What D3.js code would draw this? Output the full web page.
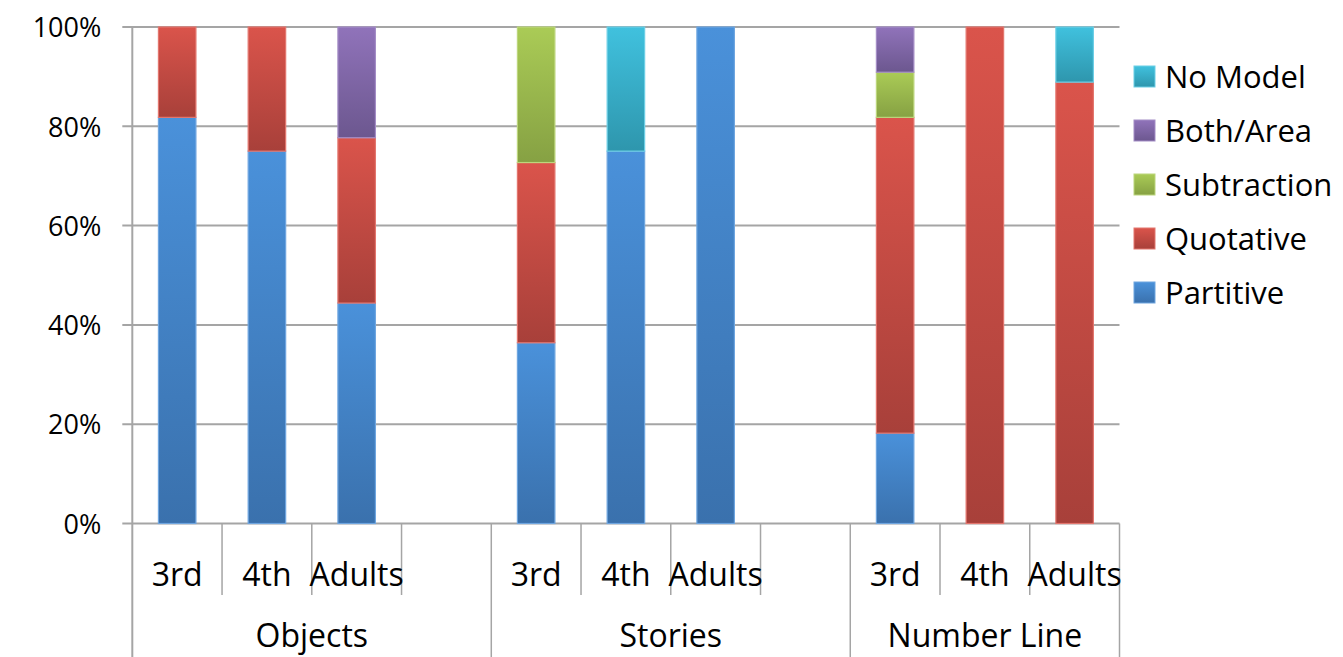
<!DOCTYPE html>
<html>
<head>
<meta charset="utf-8">
<script src="https://cdn.jsdelivr.net/npm/d3@7"></script>
<style>
  html, body { margin: 0; padding: 0; background: #fff; }
  svg { display: block; }
  text { font-family: "Open Sans", sans-serif; fill: #000; }
</style>
</head>
<body>
<svg id="chart" width="1343" height="657"></svg>
<script>
// ---- Data ----
const groups = ["Objects", "Stories", "Number Line"];
const categories = ["3rd", "4th", "Adults"];
const seriesNames = ["Partitive", "Quotative", "Subtraction", "Both/Area", "No Model"];
const partitive   = [81.8, 75, 44.4, 36.4, 75, 100, 18.2, 0, 0];
const quotative   = [18.2, 25, 33.3, 36.3, 0, 0, 63.6, 100, 88.9];
const subtraction = [0, 0, 0, 27.3, 0, 0, 9.1, 0, 0];
const bothArea    = [0, 0, 22.3, 0, 0, 0, 9.1, 0, 0];
const noModel     = [0, 0, 0, 0, 25, 0, 0, 0, 11.1];
const yTicks = [0, 20, 40, 60, 80, 100];

const seriesValues = [partitive, quotative, subtraction, bothArea, noModel];
const colorsTop    = ["#4a91da", "#da544b", "#aacb56", "#9073ba", "#40c1de"];
const colorsBottom = ["#3a71ad", "#a8403a", "#86a143", "#6c578f", "#2e96ad"];
const colorsStroke = ["#6fa6e0", "#e3766e", "#bcd67c", "#a48dc6", "#6ccfe6"];

// ---- Build slots (3 per group + empty spacer between groups) ----
const slots = [];
const rows = [];
groups.forEach((g, gi) => {
  categories.forEach((c, ci) => {
    const key = g + "|" + c;
    slots.push(key);
    const row = { key: key };
    seriesNames.forEach((s, si) => { row[s] = seriesValues[si][gi * 3 + ci]; });
    rows.push(row);
  });
  if (gi < groups.length - 1) slots.push(g + "|_gap");
});

const svg = d3.select("#chart");
const defs = svg.append("defs");
seriesNames.forEach((s, i) => {
  const lgd = defs.append("linearGradient")
    .attr("id", "grad" + i)
    .attr("x1", 0).attr("y1", 0).attr("x2", 0).attr("y2", 1);
  lgd.append("stop").attr("offset", "0%").attr("stop-color", colorsTop[i]);
  lgd.append("stop").attr("offset", "100%").attr("stop-color", colorsBottom[i]);
});

const mLeft = 132.3, mRight = 1119.5, mTop = 27, mBottom = 523.5;
const x = d3.scaleBand().domain(slots).range([mLeft, mRight]).padding(0);
const y = d3.scaleLinear().domain([0, 100]).range([mBottom, mTop]);
const barW = 37.5;
const gridColor = "#a5a5a5";

// gridlines
svg.append("g").selectAll("line").data(yTicks).join("line")
  .attr("x1", mLeft - 10).attr("x2", mRight)
  .attr("y1", d => y(d)).attr("y2", d => y(d))
  .attr("stroke", gridColor).attr("stroke-width", 2);

// y axis
const yAxis = d3.axisLeft(y).tickValues(yTicks).tickFormat(d => d + "%").tickSize(0).tickPadding(31);
const ya = svg.append("g").attr("transform", `translate(${mLeft},0)`).call(yAxis);
ya.select(".domain").remove();
ya.selectAll("text").style("font-family", "'Open Sans', sans-serif").style("font-size", "27px").attr("fill", "#000").attr("dy", "0.36em");

// stacked bars
const stack = d3.stack().keys(seriesNames);
const stacked = stack(rows);
stacked.forEach((layer, si) => {
  svg.append("g").selectAll("rect")
    .data(layer.filter(d => d[1] - d[0] > 0))
    .join("rect")
    .attr("x", d => x(d.data.key) + x.bandwidth() / 2 - barW / 2)
    .attr("width", barW)
    .attr("y", d => y(Math.min(100, d[1])))
    .attr("height", d => y(d[0]) - y(Math.min(100, d[1])))
    .attr("fill", `url(#grad${si})`)
    .attr("stroke", colorsStroke[si])
    .attr("stroke-width", 1.2);
});

// vertical axis line
svg.append("line").attr("x1", mLeft).attr("x2", mLeft).attr("y1", mTop).attr("y2", 657)
  .attr("stroke", gridColor).attr("stroke-width", 2);

// category separators
const sepG = svg.append("g");
slots.forEach((k, i) => {
  if (i === 0) return;
  const xx = x(k);
  const isGroupSep = slots[i - 1].endsWith("_gap");
  sepG.append("line")
    .attr("x1", xx).attr("x2", xx)
    .attr("y1", mBottom).attr("y2", isGroupSep ? 657 : 595)
    .attr("stroke", gridColor).attr("stroke-width", 1.5);
});
// right border
sepG.append("line").attr("x1", mRight).attr("x2", mRight).attr("y1", mBottom).attr("y2", 657)
  .attr("stroke", gridColor).attr("stroke-width", 1.5);

// category labels
svg.append("g").selectAll("text").data(rows).join("text")
  .attr("x", d => x(d.key) + x.bandwidth() / 2)
  .attr("y", 586)
  .attr("text-anchor", "middle")
  .style("font-size", "32px")
  .text(d => d.key.split("|")[1]);

// group labels
svg.append("g").selectAll("text").data(groups).join("text")
  .attr("x", g => {
    const ks = slots.filter(k => k.startsWith(g + "|") && !k.endsWith("_gap"));
    const a = x(ks[0]), b = x(ks[ks.length - 1]) + x.bandwidth();
    const gapKey = g + "|_gap";
    const end = slots.includes(gapKey) ? x(gapKey) + x.bandwidth() : b;
    return (a + end) / 2;
  })
  .attr("y", 647)
  .attr("text-anchor", "middle")
  .style("font-size", "32px")
  .text(g => g);

// legend
const legendOrder = seriesNames.map((s, i) => i).reverse();
const lg = svg.append("g");
legendOrder.forEach((si, r) => {
  const baseY = 88 + r * 54;
  lg.append("rect")
    .attr("x", 1134).attr("y", baseY - 22).attr("width", 21).attr("height", 21)
    .attr("fill", `url(#grad${si})`)
    .attr("stroke", colorsStroke[si]).attr("stroke-width", 1);
  lg.append("text")
    .attr("x", 1165).attr("y", baseY)
    .style("font-size", "31px")
    .text(seriesNames[si]);
});
</script>
</body>
</html>
